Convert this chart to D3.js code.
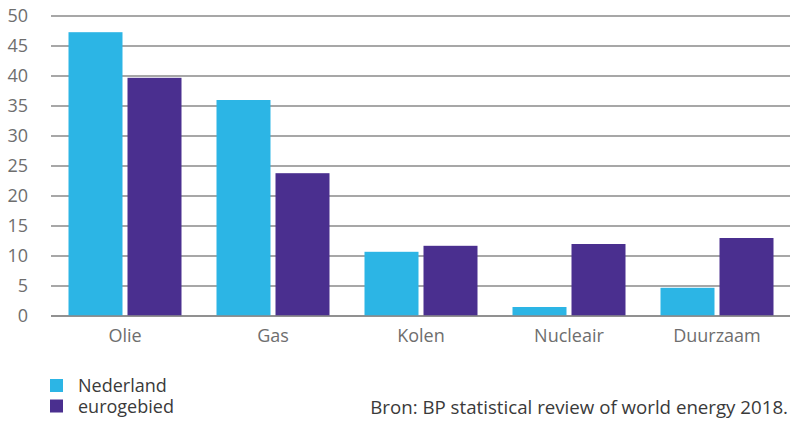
<!DOCTYPE html>
<html>
<head>
<meta charset="utf-8">
<script src="https://cdn.jsdelivr.net/npm/d3@7"></script>
<style>
  body { margin: 0; background: #fff; }
  text { font-family: "Open Sans", "Noto Sans", sans-serif; }
</style>
</head>
<body>
<div id="chart"></div>
<script>
// energiemix: Nederland vs eurogebied (%)
const categories = ["Olie", "Gas", "Kolen", "Nucleair", "Duurzaam"];
const seriesNames = ["Nederland", "eurogebied"];
const nederland = [47.3, 36.0, 10.7, 1.5, 4.7];
const eurogebied = [39.7, 23.8, 11.7, 12.0, 13.0];
const yTicks = [0, 5, 10, 15, 20, 25, 30, 35, 40, 45, 50];
const bron = "Bron: BP statistical review of world energy 2018.";

const colors = ["#2cb5e5", "#4a2f8f"];
const W = 790, H = 422;
const margin = { top: 16, right: -1, bottom: 106, left: 51 };

const svg = d3.select("#chart")
  .append("svg")
  .attr("width", W)
  .attr("height", H);

const x = d3.scaleBand()
  .domain(categories)
  .range([margin.left, W - margin.right])
  .paddingInner(0)
  .paddingOuter(0);

// twee balken van 54px met 5px ertussen
const groupW = 113;
const xSub = d3.scaleBand()
  .domain(seriesNames)
  .range([0, groupW])
  .paddingInner(5 / 59);

const y = d3.scaleLinear()
  .domain([0, 50])
  .range([H - margin.bottom, margin.top]);

// gridlijnen
svg.append("g")
  .selectAll("line")
  .data(yTicks)
  .enter()
  .append("line")
  .attr("x1", margin.left)
  .attr("x2", W)
  .attr("y1", d => y(d))
  .attr("y2", d => y(d))
  .attr("stroke", "#8a8a8a")
  .attr("stroke-width", 1.6);

// y labels
svg.append("g")
  .selectAll("text")
  .data(yTicks)
  .enter()
  .append("text")
  .attr("x", 28)
  .attr("y", d => y(d))
  .attr("dy", "0.36em")
  .attr("text-anchor", "end")
  .style("font-size", "18px")
  .style("fill", "#6e6e6e")
  .text(d => d);

const rows = categories.map((c, i) => ({ cat: c, values: [nederland[i], eurogebied[i]] }));

const groups = svg.append("g")
  .selectAll("g")
  .data(rows)
  .enter()
  .append("g")
  .attr("transform", d => `translate(${x(d.cat) + (x.bandwidth() - groupW) / 2},0)`);

groups.selectAll("rect")
  .data(d => d.values.map((v, j) => ({ name: seriesNames[j], value: v, j })))
  .enter()
  .append("rect")
  .attr("x", d => xSub(d.name))
  .attr("width", xSub.bandwidth())
  .attr("y", d => y(d.value))
  .attr("height", d => y(0) - y(d.value))
  .attr("fill", d => colors[d.j]);

// x-as lijn
svg.append("line")
  .attr("x1", margin.left)
  .attr("x2", W)
  .attr("y1", y(0))
  .attr("y2", y(0))
  .attr("stroke", "#8a8a8a")
  .attr("stroke-width", 1.6);

// categorie labels
svg.append("g")
  .selectAll("text")
  .data(categories)
  .enter()
  .append("text")
  .attr("x", d => x(d) + x.bandwidth() / 2)
  .attr("y", 342)
  .attr("text-anchor", "middle")
  .style("font-size", "18px")
  .style("fill", "#6e6e6e")
  .text(d => d);

// legenda: blokjes + één tekstblok met twee regels
const legendY = 379, legendStep = 20.5;

svg.append("g")
  .selectAll("rect")
  .data(seriesNames)
  .enter()
  .append("rect")
  .attr("x", 50)
  .attr("y", (d, i) => legendY + i * legendStep)
  .attr("width", 13)
  .attr("height", 13)
  .attr("fill", (d, i) => colors[i]);

svg.append("text")
  .style("font-size", "18px")
  .style("fill", "#3a3a3a")
  .selectAll("tspan")
  .data(seriesNames)
  .enter()
  .append("tspan")
  .attr("x", 78)
  .attr("y", (d, i) => legendY + 13 + i * legendStep)
  .text(d => d);

svg.append("text")
  .attr("x", 788)
  .attr("y", 414)
  .attr("text-anchor", "end")
  .style("font-size", "18.7px")
  .style("fill", "#3a3a3a")
  .text(bron);
</script>
</body>
</html>
